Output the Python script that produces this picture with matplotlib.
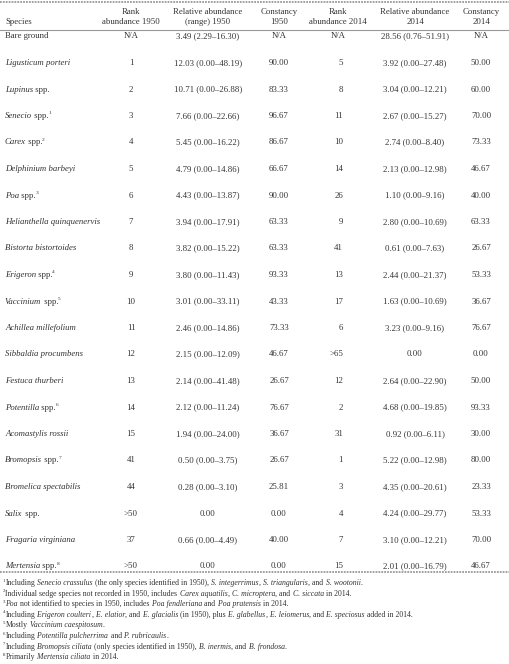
import matplotlib
matplotlib.use("Agg")
import matplotlib.pyplot as plt

# table data
genus = ["", "Ligusticum porteri", "Lupinus", "Senecio", "Carex", "Delphinium barbeyi",
         "Poa", "Helianthella quinquenervis", "Bistorta bistortoides", "Erigeron",
         "Vaccinium", "Achillea millefolium", "Sibbaldia procumbens", "Festuca thurberi",
         "Potentilla", "Acomastylis rossii", "Bromopsis", "Bromelica spectabilis",
         "Salix", "Fragaria virginiana", "Mertensia"]
plain = ["Bare ground", "", " spp.", " spp.", " spp.", "", " spp.", "", "", " spp.",
         " spp.", "", "", "", " spp.", "", " spp.", "", " spp.", "", " spp."]
note = ["", "", "", "1", "2", "", "3", "", "", "4", "5", "", "", "", "6", "", "7", "", "", "", "8"]

rank_1950 = ["N/A", "1", "2", "3", "4", "5", "6", "7", "8", "9", "10", "11", "12", "13",
             "14", "15", "41", "44", ">50", "37", ">50"]
rel_1950 = ["3.49 (2.29–16.30)", "12.03 (0.00–48.19)", "10.71 (0.00–26.88)",
            "7.66 (0.00–22.66)", "5.45 (0.00–16.22)", "4.79 (0.00–14.86)",
            "4.43 (0.00–13.87)", "3.94 (0.00–17.91)", "3.82 (0.00–15.22)",
            "3.80 (0.00–11.43)", "3.01 (0.00–33.11)", "2.46 (0.00–14.86)",
            "2.15 (0.00–12.09)", "2.14 (0.00–41.48)", "2.12 (0.00–11.24)",
            "1.94 (0.00–24.00)", "0.50 (0.00–3.75)", "0.28 (0.00–3.10)", "0.00",
            "0.66 (0.00–4.49)", "0.00"]
const_1950 = ["N/A", "90.00", "83.33", "96.67", "86.67", "66.67", "90.00", "63.33",
              "63.33", "93.33", "43.33", "73.33", "46.67", "26.67", "76.67", "36.67",
              "26.67", "25.81", "0.00", "40.00", "0.00"]
rank_2014 = ["N/A", "5", "8", "11", "10", "14", "26", "9", "41", "13", "17", "6", ">65",
             "12", "2", "31", "1", "3", "4", "7", "15"]
rel_2014 = ["28.56 (0.76–51.91)", "3.92 (0.00–27.48)", "3.04 (0.00–12.21)",
            "2.67 (0.00–15.27)", "2.74 (0.00–8.40)", "2.13 (0.00–12.98)",
            "1.10 (0.00–9.16)", "2.80 (0.00–10.69)", "0.61 (0.00–7.63)",
            "2.44 (0.00–21.37)", "1.63 (0.00–10.69)", "3.23 (0.00–9.16)", "0.00",
            "2.64 (0.00–22.90)", "4.68 (0.00–19.85)", "0.92 (0.00–6.11)",
            "5.22 (0.00–12.98)", "4.35 (0.00–20.61)", "4.24 (0.00–29.77)",
            "3.10 (0.00–12.21)", "2.01 (0.00–16.79)"]
const_2014 = ["N/A", "50.00", "60.00", "70.00", "73.33", "46.67", "40.00", "63.33",
              "26.67", "53.33", "36.67", "76.67", "0.00", "50.00", "93.33", "30.00",
              "80.00", "23.33", "53.33", "70.00", "46.67"]

headers = [("Species", ""), ("Rank", "abundance 1950"), ("Relative abundance", "(range) 1950"),
           ("Constancy", "1950"), ("Rank", "abundance 2014"), ("Relative abundance", "2014"),
           ("Constancy", "2014")]

# footnotes: list of (text, style) segments; i = italic, s = superscript
footnotes = [
    [("1", "s"), ("Including", "n"), (" Senecio crassulus", "i"), (" (the only species identified in 1950),", "n"),
     (" S. integerrimus", "i"), (",", "n"), (" S. triangularis", "i"), (", and", "n"), (" S. wootonii", "i"), (".", "n")],
    [("2", "s"), ("Individual sedge species not recorded in 1950, includes", "n"), (" Carex aquatilis", "i"),
     (",", "n"), (" C. microptera", "i"), (", and", "n"), (" C. siccata", "i"), (" in 2014.", "n")],
    [("3", "s"), ("Poa", "i"), (" not identified to species in 1950, includes", "n"), (" Poa fendleriana", "i"),
     (" and", "n"), (" Poa pratensis", "i"), (" in 2014.", "n")],
    [("4", "s"), ("Including", "n"), (" Erigeron coulteri", "i"), (",", "n"), (" E. elatior", "i"), (", and", "n"),
     (" E. glacialis", "i"), (" (in 1950), plus", "n"), (" E. glabellus", "i"), (",", "n"), (" E. leiomerus", "i"),
     (", and", "n"), (" E. speciosus", "i"), (" added in 2014.", "n")],
    [("5", "s"), ("Mostly", "n"), (" Vaccinium caespitosum", "i"), (".", "n")],
    [("6", "s"), ("Including", "n"), (" Potentilla pulcherrima", "i"), (" and", "n"), (" P. rubricaulis", "i"), (".", "n")],
    [("7", "s"), ("Including", "n"), (" Bromopsis ciliata", "i"), (" (only species identified in 1950),", "n"),
     (" B. inermis", "i"), (", and", "n"), (" B. frondosa", "i"), (".", "n")],
    [("8", "s"), ("Primarily", "n"), (" Mertensia ciliata", "i"), (" in 2014.", "n")],
]

FONT = "Liberation Serif"
INK = "#333333"
FS = 6.3
FN = 5.6

fig = plt.figure(figsize=(5.1, 6.64), dpi=100)
ax = fig.add_axes([0, 0, 1, 1])
ax.set_xlim(0, 510)
ax.set_ylim(664, 0)
ax.axis("off")
renderer = fig.canvas.get_renderer()


def rich(x, y, segs, size):
    # spaces only ever lead a segment, so the measured extent keeps them
    for n, (s, st) in enumerate(segs):
        if not s:
            continue
        if st == "s":
            x0 = x - 0.8 if n > 0 else x
            t = ax.text(x0, y - size * 0.6, s, fontsize=size * 0.62, family=FONT,
                        color=INK, va="baseline")
            x = x0 + t.get_window_extent(renderer).width
        else:
            t = ax.text(x, y, s, fontsize=size, family=FONT, color=INK, va="baseline",
                        style="italic" if st == "i" else "normal")
            x += t.get_window_extent(renderer).width + 0.2


# rules
ax.axhline(1.5, color="#999999", lw=1.3, ls=(0, (1, 0.6)))
ax.axhline(30, color="#999999", lw=0.8)
ax.axhline(572, color="#999999", lw=1.3, ls=(0, (1, 0.6)))

# column positions
col_x = [5, 131, 208, 279, 338, 415, 481]

ax.text(col_x[0], 24.5, headers[0][0], fontsize=FS, family=FONT, color=INK, va="baseline")
for cx, (h1, h2) in zip(col_x[1:], headers[1:]):
    ax.text(cx, 13.5, h1, fontsize=FS, family=FONT, color=INK, va="baseline", ha="center")
    ax.text(cx, 24.5, h2, fontsize=FS, family=FONT, color=INK, va="baseline", ha="center")

for i in range(len(genus)):
    y = 38.5 + i * 26.5
    segs = [(genus[i], "i"), (plain[i], "n")]
    if note[i]:
        segs.append((note[i], "s"))
    rich(col_x[0], y, segs, FS)
    ax.text(col_x[1], y, rank_1950[i], fontsize=FS, family=FONT, color=INK, va="baseline", ha="center")
    ax.text(col_x[2], y, rel_1950[i], fontsize=FS, family=FONT, color=INK, va="baseline", ha="center")
    ax.text(col_x[3], y, const_1950[i], fontsize=FS, family=FONT, color=INK, va="baseline", ha="center")
    if rank_2014[i] == "N/A":
        ax.text(col_x[4], y, rank_2014[i], fontsize=FS, family=FONT, color=INK, va="baseline", ha="center")
    else:
        ax.text(343, y, rank_2014[i], fontsize=FS, family=FONT, color=INK, va="baseline", ha="right")
    ax.text(col_x[5], y, rel_2014[i], fontsize=FS, family=FONT, color=INK, va="baseline", ha="center")
    ax.text(col_x[6], y, const_2014[i], fontsize=FS, family=FONT, color=INK, va="baseline", ha="center")

for k, fn in enumerate(footnotes):
    rich(3, 585 + k * 10.6, fn, FN)

fig.savefig("out.png", dpi=100, facecolor="white")
